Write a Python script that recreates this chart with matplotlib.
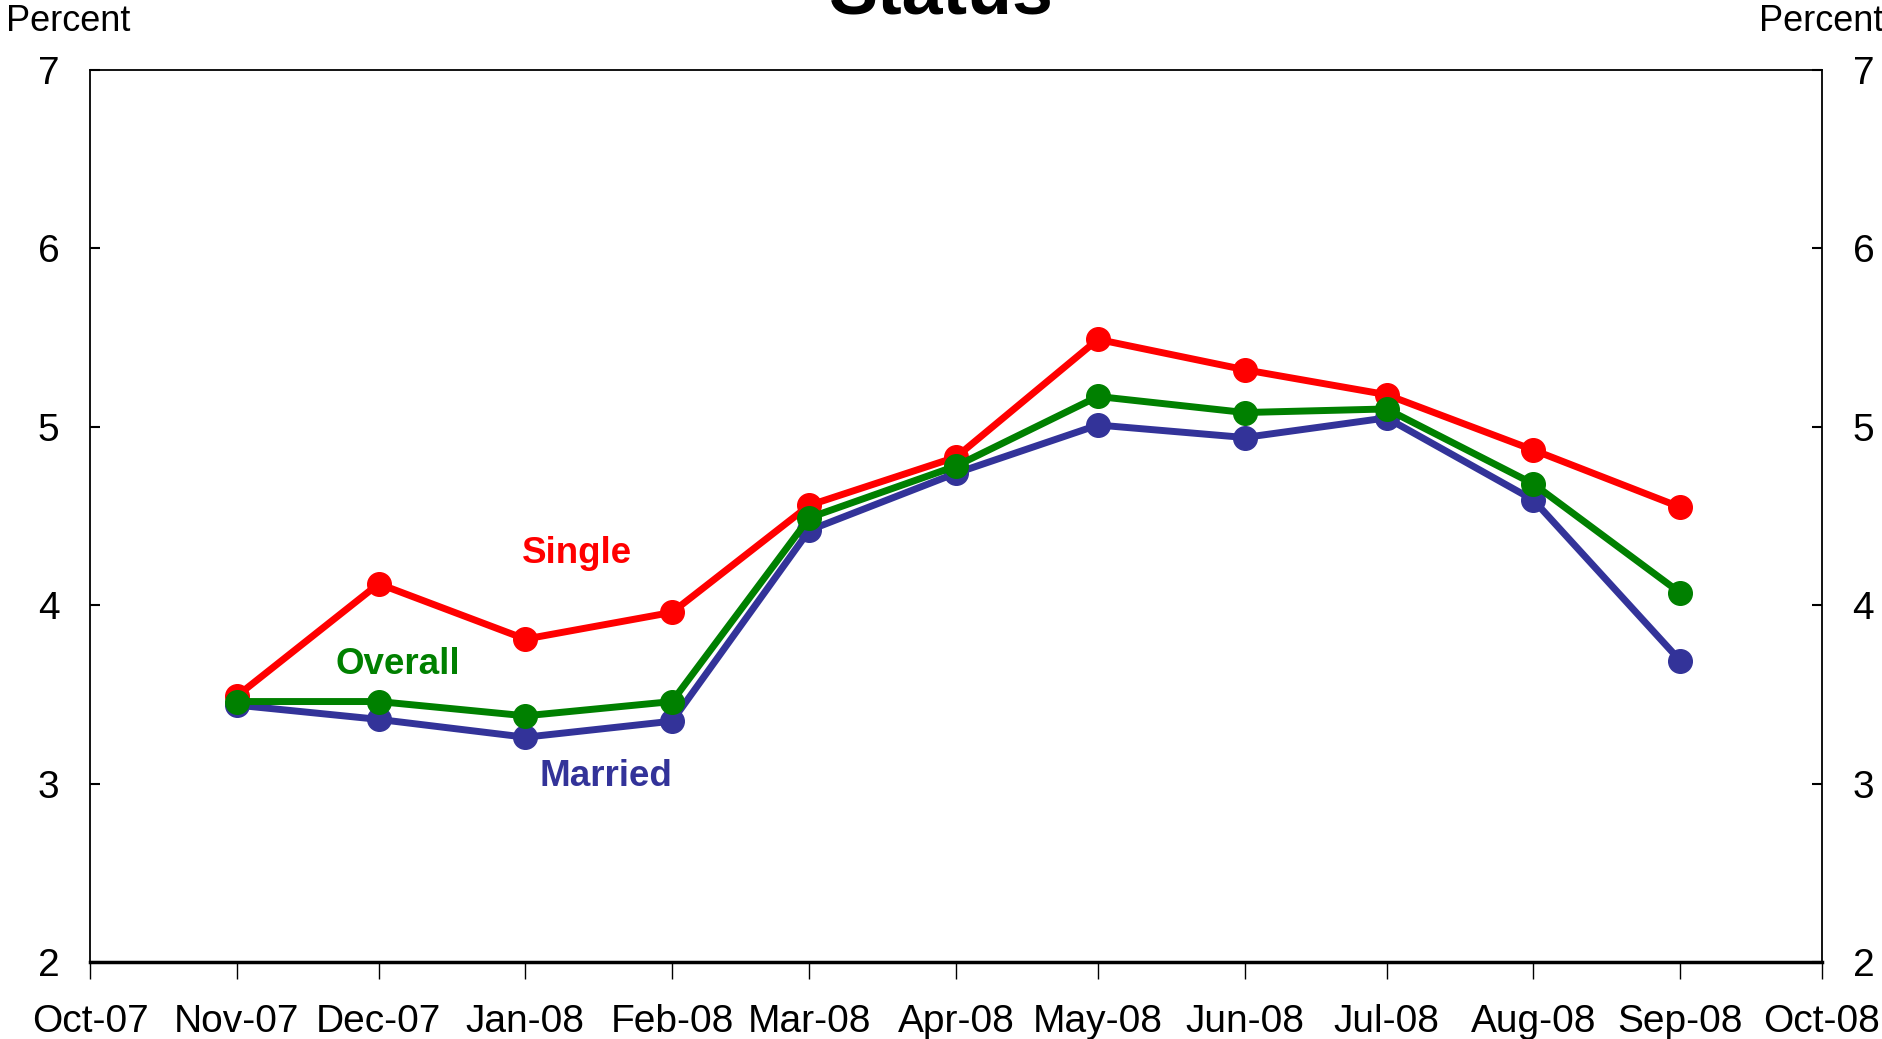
import numpy as np
import matplotlib.pyplot as plt
import matplotlib.dates as mdates
import datetime as dt

plt.rcParams['font.family'] = ['Liberation Sans', 'DejaVu Sans']

# Daten
months = [dt.date(2007, 11, 1), dt.date(2007, 12, 1), dt.date(2008, 1, 1), dt.date(2008, 2, 1),
          dt.date(2008, 3, 1), dt.date(2008, 4, 1), dt.date(2008, 5, 1), dt.date(2008, 6, 1),
          dt.date(2008, 7, 1), dt.date(2008, 8, 1), dt.date(2008, 9, 1)]
single = [3.49, 4.12, 3.81, 3.96, 4.56, 4.83, 5.49, 5.32, 5.18, 4.87, 4.55]
overall = [3.46, 3.46, 3.38, 3.46, 4.49, 4.78, 5.17, 5.08, 5.10, 4.68, 4.07]
married = [3.44, 3.36, 3.26, 3.35, 4.42, 4.74, 5.01, 4.94, 5.05, 4.59, 3.69]

# Plot
fig = plt.figure(figsize=(18.83, 10.39), dpi=100)
ax = fig.add_axes([90 / 1883, 1 - 962 / 1039, (1822 - 90) / 1883, (962 - 70) / 1039])

lw = 5
ms = 17
ax.plot(months, single, color='#FF0000', lw=lw, marker='o', ms=ms, zorder=3)
ax.plot(months, married, color='#333399', lw=lw, marker='o', ms=ms, zorder=4)
ax.plot(months, overall, color='#008000', lw=lw, marker='o', ms=ms, zorder=5)

# Reihenbeschriftungen
ax.text(dt.date(2008, 1, 12), 4.29, 'Single', color='#FF0000', fontsize=26.5, fontweight='bold',
        ha='center', va='center')
ax.text(dt.date(2007, 12, 5), 3.67, 'Overall', color='#008000', fontsize=26.5, fontweight='bold',
        ha='center', va='center')
ax.text(dt.date(2008, 1, 18), 3.04, 'Married', color='#333399', fontsize=26.5, fontweight='bold',
        ha='center', va='center')

# Achsen
ax.set_xlim(dt.date(2007, 10, 1), dt.date(2008, 10, 1))
ax.set_ylim(2, 7)
ax.xaxis.set_major_locator(mdates.MonthLocator())
ax.xaxis.set_major_formatter(mdates.DateFormatter('%b-%y'))
ax.set_yticks([2, 3, 4, 5, 6, 7])

ax.tick_params(axis='x', direction='out', length=12, width=1, pad=18, labelsize=28)
ax.tick_params(axis='y', direction='in', length=7, width=1.5, labelsize=28, pad=22,
               left=True, right=True, labelleft=True, labelright=True)

for side in ['left', 'right', 'top']:
    ax.spines[side].set_linewidth(1.3)
ax.spines['bottom'].set_linewidth(2.5)

# Titel und Einheiten
fig.text(0.5, 1 - 14.5 / 1039, 'Status', fontsize=53, fontweight='bold', ha='center', va='baseline')
fig.text(6 / 1883, 1 - 31 / 1039, 'Percent', fontsize=26, ha='left', va='baseline')
fig.text(1.0, 1 - 31 / 1039, 'Percent', fontsize=26, ha='right', va='baseline')

fig.savefig('out.png', dpi=100)
